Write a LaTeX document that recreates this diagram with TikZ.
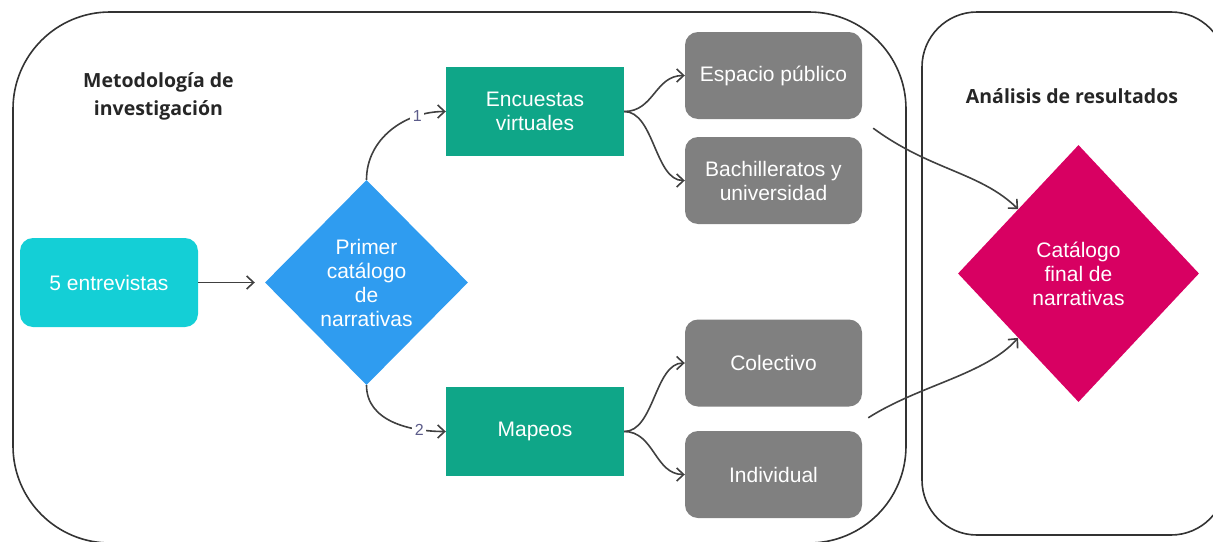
\documentclass[tikz,border=0pt]{standalone}
\usepackage{fontspec}
\setmainfont{Liberation Sans}
\newfontfamily\titlefont{Open Sans}
\usetikzlibrary{shapes.geometric,arrows.meta,calc}
\definecolor{cyanbox}{RGB}{20,207,214}
\definecolor{bluedia}{RGB}{47,156,240}
\definecolor{greenbox}{RGB}{15,166,136}
\definecolor{graybox}{RGB}{128,128,128}
\definecolor{magdia}{RGB}{216,0,98}
\definecolor{linecol}{RGB}{64,64,64}
\definecolor{framecol}{RGB}{51,51,51}
\definecolor{numcol}{RGB}{92,92,138}
\begin{document}
\begin{tikzpicture}[x=1pt,y=-1pt,
  container/.style={draw=framecol,line width=1.6pt},
  nodetext/.style={text=white,align=center,font=\fontsize{21}{24}\selectfont,inner sep=0pt},
  cbox/.style={nodetext,fill=cyanbox,rounded corners=13pt,minimum width=178pt,minimum height=89pt},
  gbox/.style={nodetext,fill=greenbox,minimum width=178pt,minimum height=89pt},
  graybx/.style={nodetext,fill=graybox,rounded corners=13pt,minimum width=177pt,minimum height=87pt},
  dia/.style={nodetext,diamond,aspect=1},
  titletext/.style={text=black!85,align=center,font=\titlefont\bfseries\fontsize{19.5}{28}\selectfont,inner sep=0pt},
  conn/.style={draw=linecol,line width=1.6pt,-{Straight Barb[length=7pt,width=13pt]}},
  numlab/.style={fill=white,text=numcol,font=\fontsize{16}{17}\selectfont,inner sep=2.5pt}
]
\useasboundingbox (0,0) rectangle (1213,541);
\clip (0,0) rectangle (1213,541);

% containers
\draw[container,rounded corners=97pt] (13,12) rectangle (906,543);
\draw[container,rounded corners=55pt] (922,12) rectangle (1226,535);

% titles
\node[titletext] (t1) at (158.5,96) {Metodología de\\investigación};
\node[titletext] (t2) at (1072,96) {Análisis de resultados};

% nodes
\node[cbox] (ent) at (109,282.5) {5 entrevistas};
\node[dia,fill=bluedia,minimum width=203pt,minimum height=205pt] (prim) at (366.5,282.5) {Primer\\catálogo\\de\\narrativas};
\node[gbox] (enc) at (535,111.5) {Encuestas\\virtuales};
\node[gbox] (map) at (535,431.5) {Mapeos};
\node[graybx] (esp) at (773.5,75.5) {Espacio público};
\node[graybx] (bach) at (773.5,180.5) {Bachilleratos y\\universidad};
\node[graybx] (col) at (773.5,363) {Colectivo};
\node[graybx] (ind) at (773.5,474.5) {Individual};
\node[dia,fill=magdia,minimum width=241pt,minimum height=257pt] (fin) at (1078.5,273.5) {Catálogo\\final de\\narrativas};

% free ends
\coordinate (s1) at ($(esp.south east)+(11,9)$);
\coordinate (s2) at ($(ind.north east)+(6,-13)$);

% connectors
\draw[conn,shorten >=10pt] (ent.east) -- (prim.west);
\draw[conn] (prim.north) .. controls +(0,-41) and +(-41,0) .. node[numlab,pos=0.76]{1} (enc.west);
\draw[conn] (prim.south) .. controls +(0,36) and +(-36,0) .. node[numlab,pos=0.76]{2} (map.west);
\draw[conn] (enc.east) .. controls +(30,0) and +(-30,0) .. (esp.west);
\draw[conn] (enc.east) .. controls +(30,0) and +(-30,0) .. (bach.west);
\draw[conn] (map.east) .. controls +(30,0) and +(-30,0) .. (col.west);
\draw[conn] (map.east) .. controls +(30,0) and +(-30,0) .. (ind.west);
\draw[conn] (s1) .. controls +(57,42) and +(-38,-37) .. ($(fin.north)!0.5!(fin.west)$);
\draw[conn] (s2) .. controls +(52,-33) and +(-33,37) .. ($(fin.south)!0.5!(fin.west)$);
\end{tikzpicture}
\end{document}
